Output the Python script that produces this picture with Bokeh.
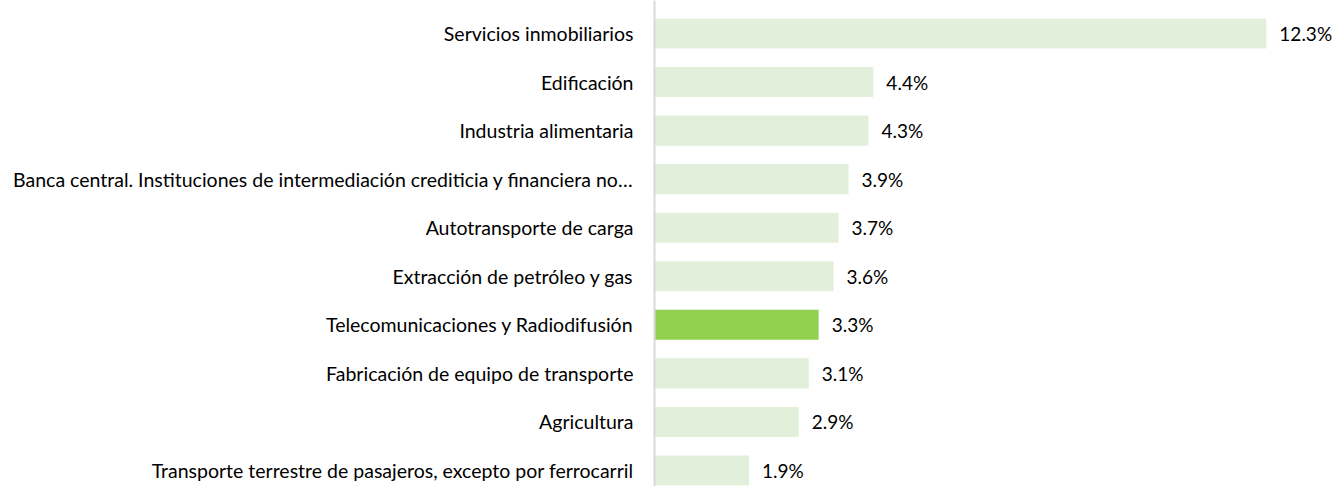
from bokeh.plotting import figure
from bokeh.models import Range1d, FixedTicker, ColumnDataSource
from bokeh.core.properties import value
from bokeh.embed import file_html
from bokeh.resources import INLINE

categories = [
    "Servicios inmobiliarios",
    "Edificación",
    "Industria alimentaria",
    "Banca central. Instituciones de intermediación crediticia y financiera no…",
    "Autotransporte de carga",
    "Extracción de petróleo y gas",
    "Telecomunicaciones y Radiodifusión",
    "Fabricación de equipo de transporte",
    "Agricultura",
    "Transporte terrestre de pasajeros, excepto por ferrocarril",
]
values = [12.3, 4.4, 4.3, 3.9, 3.7, 3.6, 3.3, 3.1, 2.9, 1.9]
labels = ["12.3%", "4.4%", "4.3%", "3.9%", "3.7%", "3.6%", "3.3%", "3.1%", "2.9%", "1.9%"]
highlight = "Telecomunicaciones y Radiodifusión"

FONT = "Lato"
pos = list(range(len(categories)))
colors = ["#92D050" if c == highlight else "#E2EFDA" for c in categories]

src = ColumnDataSource(dict(y=pos, v=values, lab=labels, color=colors))

p = figure(width=1334, height=486, output_backend="svg", toolbar_location=None,
           x_axis_location=None, x_range=Range1d(0, 13.67), y_range=Range1d(9.33, -0.68),
           min_border_left=654, min_border_right=0, min_border_top=0, min_border_bottom=0)
p.outline_line_color = None
p.xgrid.visible = False
p.ygrid.visible = False
p.background_fill_color = "white"

p.hbar(y="y", left=0, right="v", height=0.62, color="color", line_color=None, source=src)
p.text(x="v", y="y", text="lab", x_offset=13, text_baseline="middle", text_align="left",
       text_font=value(FONT), text_font_size="19px", text_color="#000000", source=src)

ax = p.yaxis[0]
ax.ticker = FixedTicker(ticks=pos)
ax.major_label_overrides = {i: c for i, c in zip(pos, categories)}
ax.major_tick_line_color = None
ax.minor_tick_line_color = None
ax.axis_line_color = "#D9D9D9"
ax.axis_line_width = 2
ax.major_label_standoff = 15
ax.major_label_text_font = FONT
ax.major_label_text_font_size = "19.5px"
ax.major_label_text_color = "#000000"

open("out.html", "w").write(file_html(p, INLINE))
